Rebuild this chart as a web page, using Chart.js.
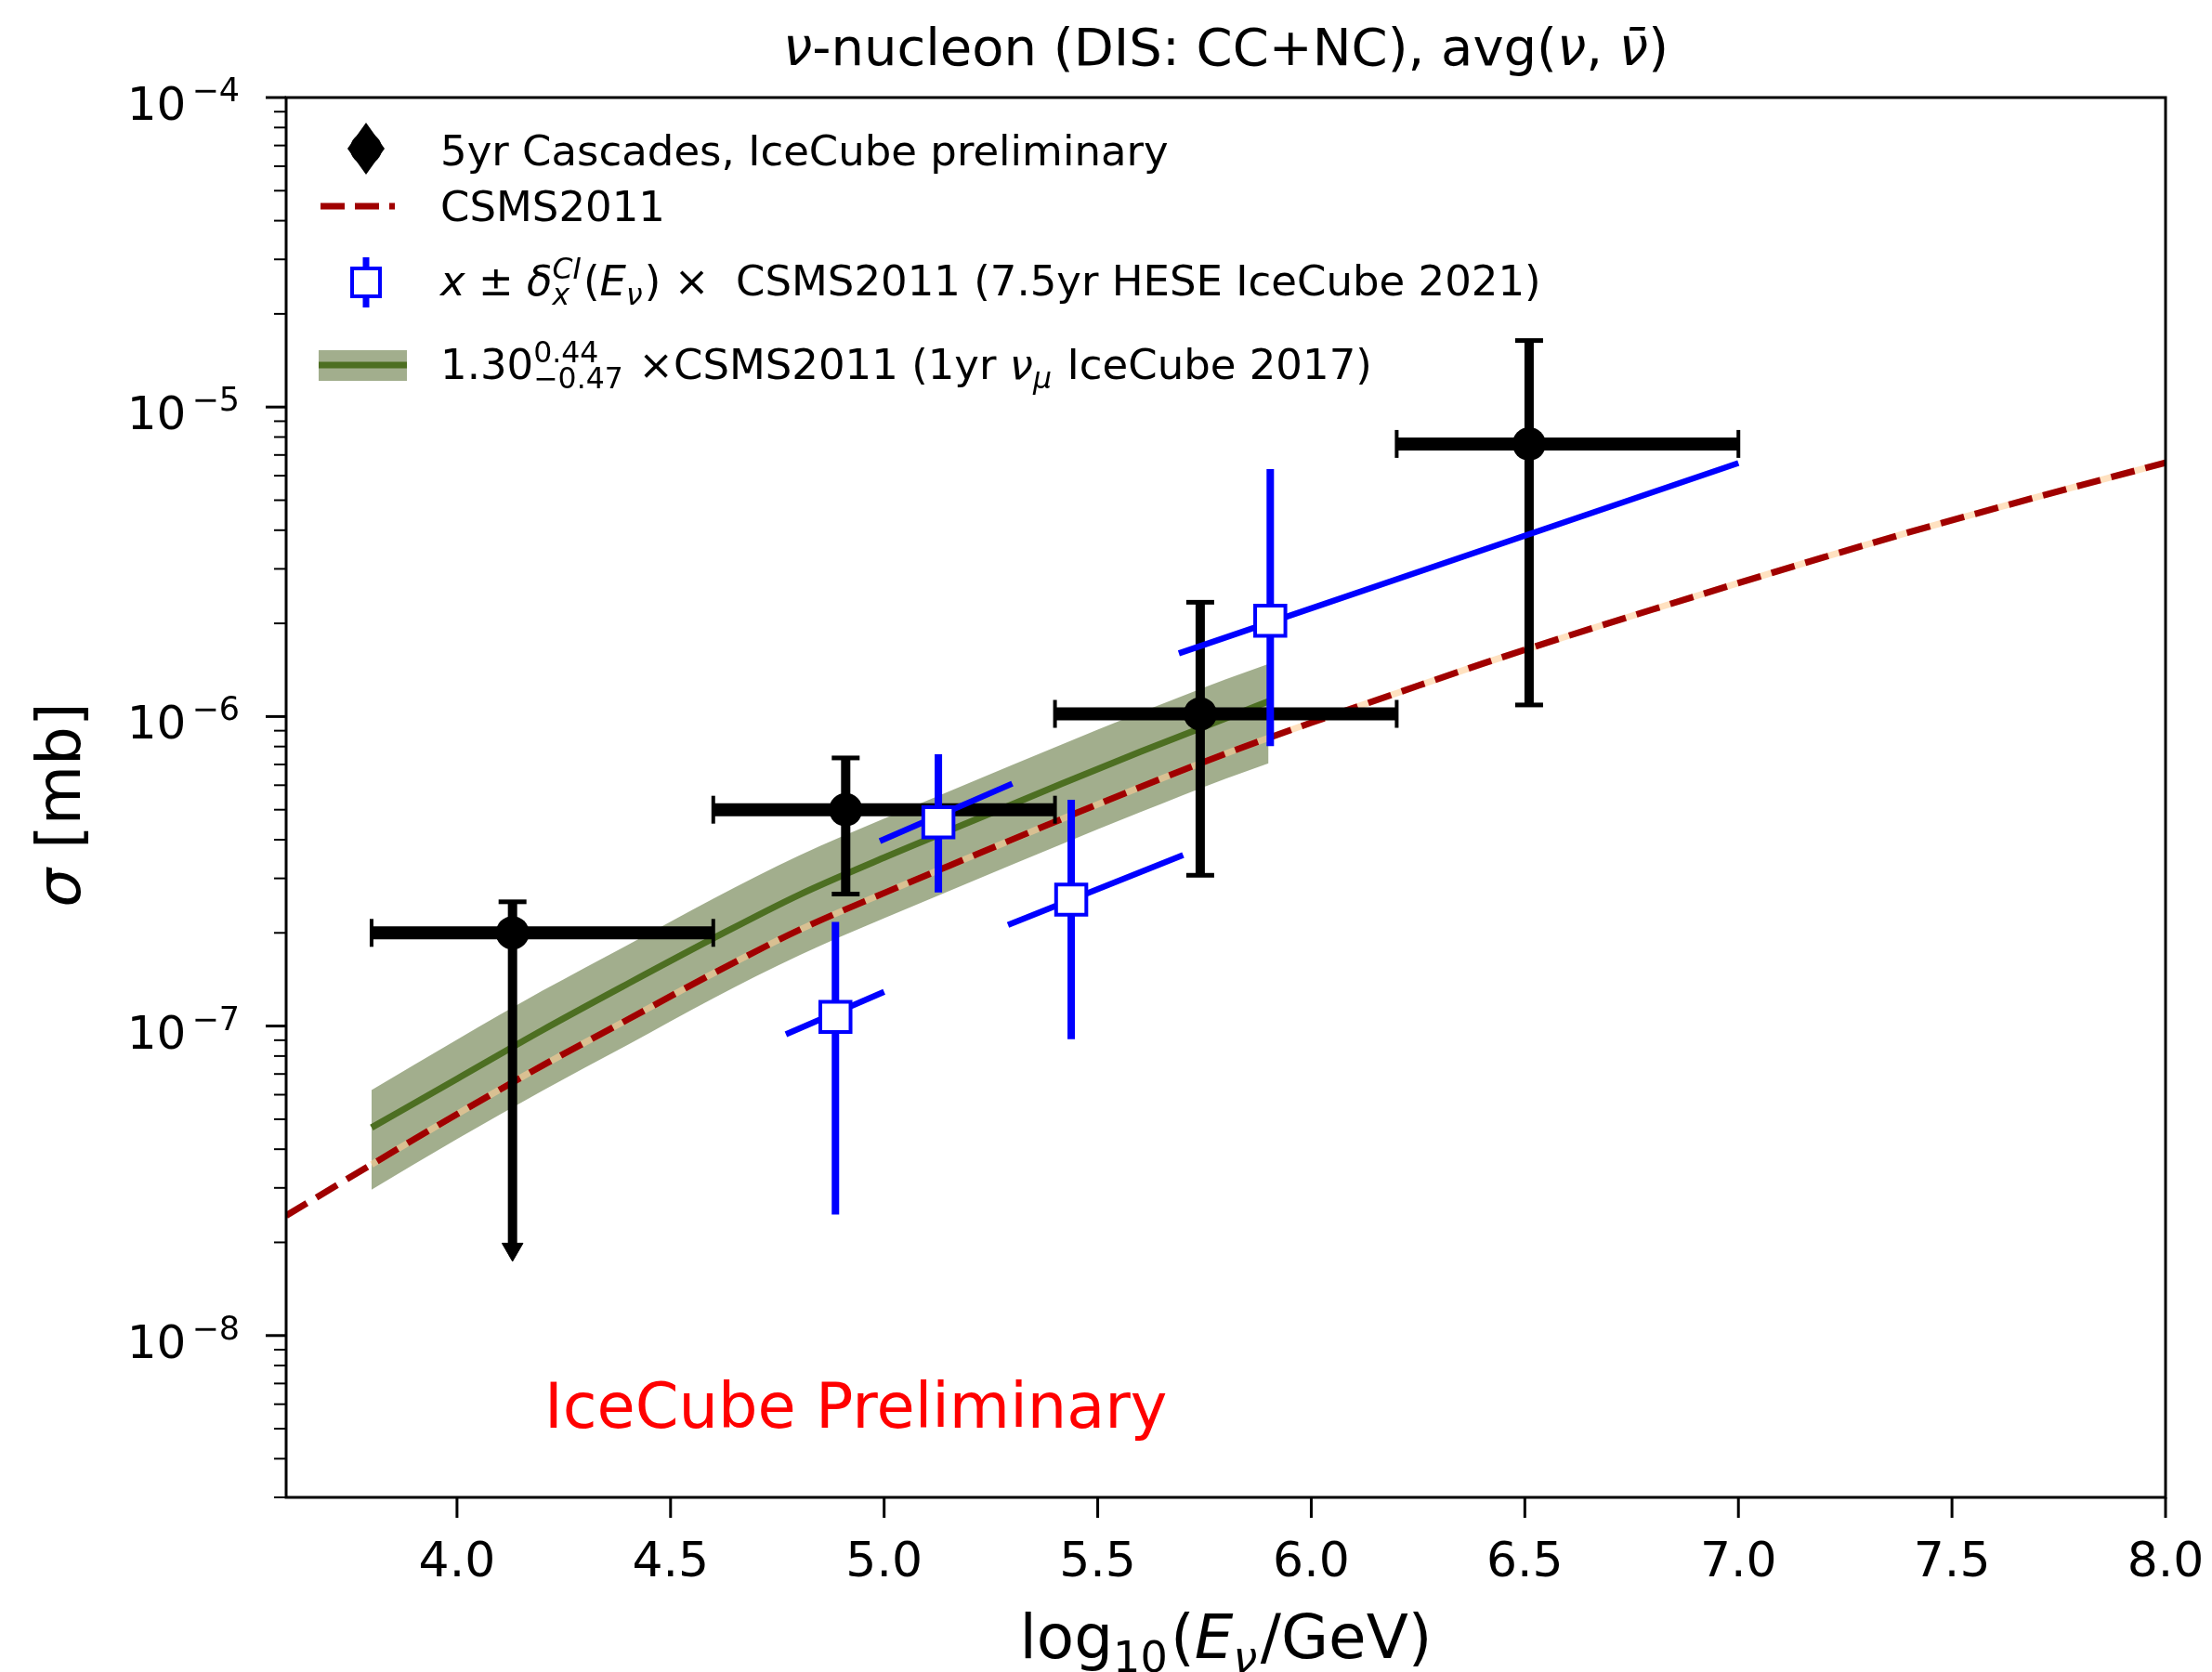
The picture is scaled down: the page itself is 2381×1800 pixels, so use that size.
<!DOCTYPE html>
<html>
<head>
<meta charset="utf-8">
<script src="https://cdn.jsdelivr.net/npm/chart.js@4.4.1/dist/chart.umd.min.js"></script>
<style>
  html, body { margin: 0; padding: 0; background: #ffffff; }
  canvas { display: block; }
</style>
</head>
<body>
<canvas id="crossSection" width="2381" height="1800"></canvas>
<script>
// CSMS2011 prediction (log10 E, sigma in mb)
const csmsX = [3.6, 3.8, 4.0, 4.2, 4.4, 4.6, 4.8, 5.0, 5.2, 5.4, 5.6, 5.8, 6.0, 6.2, 6.4, 6.6, 6.8, 7.0, 7.2, 7.4, 7.6, 7.8, 8.0];
const csmsY = [2.44e-8, 3.57e-8, 5.19e-8, 7.45e-8, 1.05e-7, 1.48e-7, 2.04e-7, 2.69e-7, 3.51e-7, 4.57e-7, 5.92e-7, 7.59e-7,
               9.55e-7, 1.19e-6, 1.48e-6, 1.82e-6, 2.22e-6, 2.70e-6, 3.27e-6, 3.94e-6, 4.70e-6, 5.58e-6, 6.61e-6];

// 1yr numu IceCube 2017 (1.30 x CSMS2011 with band)
const numuX  = [3.8, 4.0, 4.2, 4.4, 4.6, 4.8, 5.0, 5.2, 5.4, 5.6, 5.8, 5.9];
const numuY  = [4.70e-8, 6.75e-8, 9.70e-8, 1.37e-7, 1.92e-7, 2.65e-7, 3.50e-7, 4.56e-7, 5.94e-7, 7.70e-7, 9.87e-7, 1.12e-6];
const numuLo = [2.96e-8, 4.31e-8, 6.18e-8, 8.70e-8, 1.23e-7, 1.69e-7, 2.23e-7, 2.91e-7, 3.79e-7, 4.91e-7, 6.30e-7, 7.06e-7];
const numuHi = [6.21e-8, 9.03e-8, 1.30e-7, 1.83e-7, 2.58e-7, 3.55e-7, 4.68e-7, 6.11e-7, 7.95e-7, 1.03e-6, 1.32e-6, 1.48e-6];

// 5yr cascades
const cascX   = [4.13, 4.91, 5.74, 6.51];
const cascY   = [2.0e-7, 5.0e-7, 1.02e-6, 7.6e-6];
const cascXlo = [3.8, 4.6, 5.4, 6.2];
const cascXhi = [4.6, 5.4, 6.2, 7.0];
const cascYlo = [1.9e-8, 2.67e-7, 3.07e-7, 1.09e-6];
const cascYhi = [2.52e-7, 7.35e-7, 2.34e-6, 1.64e-5];
const cascUpperLimit = [true, false, false, false];

// 7.5yr HESE
const heseX    = [4.886, 5.127, 5.438, 5.904];
const heseY    = [1.07e-7, 4.55e-7, 2.56e-7, 2.04e-6];
const heseYlo  = [2.46e-8, 2.70e-7, 9.06e-8, 8.02e-7];
const heseYhi  = [2.17e-7, 7.55e-7, 5.38e-7, 6.30e-6];
const heseBinLo = [4.77, 4.99, 5.29, 5.69];
const heseBinHi = [5.0, 5.3, 5.7, 7.0];
const heseSegLo = [9.4e-8, 3.96e-7, 2.12e-7, 1.60e-6];
const heseSegHi = [1.29e-7, 6.07e-7, 3.57e-7, 6.59e-6];

// ticks
const xTicks = [4.0, 4.5, 5.0, 5.5, 6.0, 6.5, 7.0, 7.5, 8.0];
const xTickLabels = ['4.0', '4.5', '5.0', '5.5', '6.0', '6.5', '7.0', '7.5', '8.0'];
const yMajorExp = [-8, -7, -6, -5, -4];
const yMinorMult = [2, 3, 4, 5, 6, 7, 8, 9];

const FONT = '"DejaVu Sans", "Liberation Sans", sans-serif';
function font(size, italic) {
    return (italic ? 'italic ' : '') + size + 'px ' + FONT;
}

// draws text runs with simple super/subscripts, returns width
function drawRuns(ctx, runs, x, y, size, draw = true) {
    let cx = x;
    runs.forEach(r => {
        if (r.sup !== undefined || r.sub !== undefined) {
            const s = size * 0.7;
            ctx.font = font(s, r.it);
            let w = 0;
            if (r.sup) {
                if (draw) ctx.fillText(r.sup, cx, y - size * 0.4);
                w = Math.max(w, ctx.measureText(r.sup).width);
            }
            if (r.sub) {
                if (draw) ctx.fillText(r.sub, cx, y + size * 0.22);
                w = Math.max(w, ctx.measureText(r.sub).width);
            }
            cx += w + size * 0.05;
        } else {
            ctx.font = font(size, r.it);
            if (draw) ctx.fillText(r.t, cx, y);
            cx += ctx.measureText(r.t).width;
        }
    });
    return cx - x;
}

const pts = (xs, ys) => xs.map((x, i) => ({x: x, y: ys[i]}));

const cascXbars = cascX.flatMap((x, i) => [
    {x: cascXlo[i], y: cascY[i]}, {x: cascXhi[i], y: cascY[i]}, {x: cascXhi[i], y: null}]);
const cascYbars = cascX.flatMap((x, i) => [
    {x: x, y: cascYlo[i]}, {x: x, y: cascYhi[i]}, {x: x, y: null}]);
const heseSegs = heseX.flatMap((x, i) => [
    {x: heseBinLo[i], y: heseSegLo[i]}, {x: heseBinHi[i], y: heseSegHi[i]}, {x: heseBinHi[i], y: null}]);
const heseWhiskers = heseX.flatMap((x, i) => [
    {x: x, y: heseYlo[i]}, {x: x, y: heseYhi[i]}, {x: x, y: null}]);

const isArrow = c => c.dataIndex % 3 === 0 && cascUpperLimit[Math.floor(c.dataIndex / 3)];

const decor = {
    id: 'decor',
    afterDraw(chart) {
        const {ctx, chartArea: a, scales: {x, y}} = chart;
        ctx.save();
        ctx.fillStyle = '#000';
        ctx.strokeStyle = '#000';
        ctx.setLineDash([]);
        ctx.lineCap = 'butt';

        // frame
        ctx.lineWidth = 3;
        ctx.strokeRect(a.left, a.top, a.right - a.left, a.bottom - a.top);

        // x ticks
        ctx.font = font(52);
        ctx.textAlign = 'center';
        ctx.textBaseline = 'alphabetic';
        xTicks.forEach((v, i) => {
            const px = x.getPixelForValue(v);
            ctx.beginPath();
            ctx.moveTo(px, a.bottom);
            ctx.lineTo(px, a.bottom + 22);
            ctx.stroke();
            ctx.fillText(xTickLabels[i], px, a.bottom + 85);
        });

        // y minor ticks
        ctx.lineWidth = 2;
        for (let e = -9; e <= -5; e++) {
            yMinorMult.forEach(m => {
                const v = m * Math.pow(10, e);
                if (v < y.min || v > y.max) return;
                const py = y.getPixelForValue(v);
                ctx.beginPath();
                ctx.moveTo(a.left, py);
                ctx.lineTo(a.left - 13, py);
                ctx.stroke();
            });
        }
        // y major ticks + labels
        ctx.lineWidth = 3;
        ctx.textAlign = 'right';
        yMajorExp.forEach(e => {
            const py = y.getPixelForValue(Math.pow(10, e));
            ctx.beginPath();
            ctx.moveTo(a.left, py);
            ctx.lineTo(a.left - 22, py);
            ctx.stroke();
            const sup = '\u2212' + Math.abs(e);
            ctx.font = font(35);
            const supW = ctx.measureText(sup).width;
            ctx.fillText(sup, a.left - 50, py + 4);
            ctx.font = font(50);
            ctx.fillText('10', a.left - 50 - supW - 6, py + 24);
        });

        ctx.textAlign = 'left';
        // title
        const titleRuns = [{t: '\u03bd', it: true}, {t: '-nucleon (DIS: CC+NC), avg('}, {t: '\u03bd', it: true},
            {t: ', '}, {t: '\u03bd\u0304', it: true}, {t: ')'}];
        const cx = (a.left + a.right) / 2;
        let w = drawRuns(ctx, titleRuns, 0, 0, 56, false);
        drawRuns(ctx, titleRuns, cx - w / 2, 70, 56);

        // x axis label
        const xlRuns = [{t: 'log'}, {sub: '10'}, {t: '('}, {t: 'E', it: true}, {sub: '\u03bd', it: true}, {t: '/GeV)'}];
        w = drawRuns(ctx, xlRuns, 0, 0, 66, false);
        drawRuns(ctx, xlRuns, cx - w / 2, 1785, 66);

        // y axis label
        ctx.save();
        ctx.translate(86, (a.top + a.bottom) / 2 + 8);
        ctx.rotate(-Math.PI / 2);
        const ylRuns = [{t: '\u03c3', it: true}, {t: ' [mb]'}];
        w = drawRuns(ctx, ylRuns, 0, 0, 66, false);
        drawRuns(ctx, ylRuns, -w / 2, 0, 66);
        ctx.restore();

        // watermark
        ctx.fillStyle = '#ff0000';
        ctx.font = font(67);
        ctx.fillText('IceCube Preliminary', a.left + 278, 1537);

        // legend
        const hx = a.left + 86;
        const tx = a.left + 166;
        ctx.fillStyle = '#000';
        // row 1: cascades
        ctx.beginPath();
        ctx.moveTo(hx, a.top + 27);
        ctx.lineTo(hx + 20, a.top + 55);
        ctx.lineTo(hx, a.top + 83);
        ctx.lineTo(hx - 20, a.top + 55);
        ctx.closePath();
        ctx.fill();
        ctx.beginPath();
        ctx.arc(hx, a.top + 55, 17, 0, Math.PI * 2);
        ctx.fill();
        drawRuns(ctx, [{t: '5yr Cascades, IceCube preliminary'}], tx, a.top + 73, 45);

        // row 2: CSMS2011
        ctx.strokeStyle = '#a00000';
        ctx.lineWidth = 7;
        ctx.setLineDash([26, 11]);
        ctx.beginPath();
        ctx.moveTo(a.left + 37, a.top + 117);
        ctx.lineTo(a.left + 117, a.top + 117);
        ctx.stroke();
        ctx.setLineDash([]);
        drawRuns(ctx, [{t: 'CSMS2011'}], tx, a.top + 133, 45);

        // row 3: HESE
        ctx.strokeStyle = '#0000ff';
        ctx.lineWidth = 7;
        ctx.beginPath();
        ctx.moveTo(hx, a.top + 172);
        ctx.lineTo(hx, a.top + 226);
        ctx.stroke();
        ctx.fillStyle = '#ffffff';
        ctx.lineWidth = 4;
        ctx.fillRect(hx - 15, a.top + 184, 30, 30);
        ctx.strokeRect(hx - 15, a.top + 184, 30, 30);
        ctx.fillStyle = '#000';
        drawRuns(ctx, [{t: 'x', it: true}, {t: ' \u00b1 '}, {t: '\u03b4', it: true}, {sup: 'CI', sub: 'x', it: true},
            {t: '('}, {t: 'E', it: true}, {sub: '\u03bd', it: true}, {t: ') \u00d7  CSMS2011 (7.5yr HESE IceCube 2021)'}],
            tx, a.top + 213, 45);

        // row 4: numu band
        ctx.fillStyle = 'rgba(85,107,47,0.55)';
        ctx.fillRect(a.left + 35, a.top + 272, 95, 33);
        ctx.strokeStyle = '#4d6f22';
        ctx.lineWidth = 7;
        ctx.beginPath();
        ctx.moveTo(a.left + 35, a.top + 288);
        ctx.lineTo(a.left + 130, a.top + 288);
        ctx.stroke();
        ctx.fillStyle = '#000';
        drawRuns(ctx, [{t: '1.30'}, {sup: '0.44', sub: '\u22120.47'}, {t: ' \u00d7CSMS2011 (1yr '}, {t: '\u03bd', it: true},
            {sub: '\u03bc', it: true}, {t: ' IceCube 2017)'}], tx, a.top + 303, 45);

        ctx.restore();
    }
};

new Chart(document.getElementById('crossSection'), {
    type: 'line',
    data: {
        datasets: [
            {
                label: 'band low',
                data: pts(numuX, numuLo),
                borderWidth: 0,
                pointRadius: 0,
                fill: false,
                cubicInterpolationMode: 'monotone',
                order: 20
            },
            {
                label: 'band high',
                data: pts(numuX, numuHi),
                borderWidth: 0,
                pointRadius: 0,
                fill: '-1',
                backgroundColor: 'rgba(85,107,47,0.55)',
                cubicInterpolationMode: 'monotone',
                order: 19
            },
            {
                label: 'CSMS2011 band',
                data: pts(csmsX, csmsY).filter(p => p.x >= 3.8),
                borderColor: 'rgba(255,205,150,0.6)',
                borderWidth: 7,
                pointRadius: 0,
                cubicInterpolationMode: 'monotone',
                order: 18
            },
            {
                label: 'CSMS2011',
                data: pts(csmsX, csmsY),
                borderColor: '#a00000',
                borderWidth: 7,
                borderDash: [26, 12],
                pointRadius: 0,
                cubicInterpolationMode: 'monotone',
                order: 17
            },
            {
                label: '1.30 x CSMS2011 (1yr numu IceCube 2017)',
                data: pts(numuX, numuY),
                borderColor: '#4d6f22',
                borderWidth: 7,
                pointRadius: 0,
                cubicInterpolationMode: 'monotone',
                order: 16
            },
            {
                label: 'cascades x err',
                data: cascXbars,
                borderColor: '#000',
                borderWidth: 14,
                pointStyle: 'line',
                pointRotation: 90,
                pointRadius: 15,
                pointBorderWidth: 4,
                pointBorderColor: '#000',
                order: 15
            },
            {
                label: 'cascades y err',
                data: cascYbars,
                borderColor: '#000',
                borderWidth: 10,
                pointStyle: c => isArrow(c) ? 'triangle' : 'line',
                pointRotation: c => isArrow(c) ? 180 : 0,
                pointRadius: c => isArrow(c) ? 13 : 15,
                pointBorderWidth: c => isArrow(c) ? 1 : 5,
                pointBorderColor: '#000',
                pointBackgroundColor: '#000',
                order: 14
            },
            {
                label: '5yr Cascades, IceCube preliminary',
                data: pts(cascX, cascY),
                showLine: false,
                pointStyle: 'circle',
                pointRadius: 18,
                pointBorderWidth: 0,
                pointBackgroundColor: '#000',
                order: 13
            },
            {
                label: 'HESE bins',
                data: heseSegs,
                borderColor: '#0000ff',
                borderWidth: 6.5,
                pointRadius: 0,
                order: 12
            },
            {
                label: 'HESE err',
                data: heseWhiskers,
                borderColor: '#0000ff',
                borderWidth: 8,
                pointRadius: 0,
                order: 11
            },
            {
                label: 'x CSMS2011 (7.5yr HESE IceCube 2021)',
                data: pts(heseX, heseY),
                showLine: false,
                pointStyle: 'rect',
                pointRadius: 23,
                pointBorderWidth: 4,
                pointBorderColor: '#0000ff',
                pointBackgroundColor: '#ffffff',
                order: 10
            }
        ]
    },
    options: {
        responsive: false,
        animation: false,
        devicePixelRatio: 1,
        events: [],
        layout: {
            padding: {left: 308, top: 105, right: 50, bottom: 188}
        },
        elements: {
            line: {borderCapStyle: 'butt', tension: 0}
        },
        scales: {
            x: {type: 'linear', min: 3.6, max: 8.0, display: false},
            y: {type: 'logarithmic', min: 3e-9, max: 1e-4, display: false}
        },
        plugins: {
            legend: {display: false},
            tooltip: {enabled: false}
        }
    },
    plugins: [decor]
});
</script>
</body>
</html>
